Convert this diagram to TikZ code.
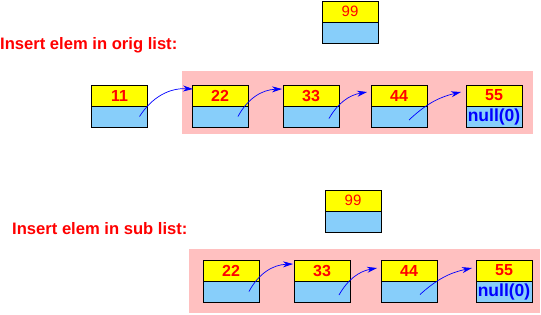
\documentclass[tikz,border=0pt]{standalone}
\usepackage{fontspec}
\setmainfont{Liberation Sans}
\usetikzlibrary{arrows.meta,positioning}
\definecolor{cellyellow}{RGB}{255,255,0}
\definecolor{cellblue}{RGB}{135,206,250}
\definecolor{listpink}{RGB}{255,192,192}

\begin{document}
\begin{tikzpicture}[x=1pt, y=-1pt,
  celltop/.style={draw, line width=0.9pt, fill=cellyellow, minimum width=56pt, minimum height=21pt, inner sep=0pt, outer sep=0pt, text=red, font=\fontsize{16}{16}\selectfont\bfseries},
  newtop/.style={celltop, font=\fontsize{15}{15}\selectfont},
  cellbot/.style={draw, line width=0.9pt, fill=cellblue, minimum width=56pt, minimum height=21pt, inner sep=0pt, outer sep=0pt, text=blue, font=\fontsize{17.5}{17.5}\selectfont\bfseries},
  caption/.style={anchor=west, inner sep=0pt, text=red, font=\fontsize{16.6}{17}\selectfont\bfseries},
  link/.style={-{Stealth[length=10pt,width=6pt]}, blue, line width=0.7pt}
]
\useasboundingbox (0,0) rectangle (541,314);
% pink sub lists
\fill[listpink] (182,71) rectangle (533,134);
\fill[listpink] (189,249) rectangle (540,313);
% orig list
\node[caption] (cap1) at (0,45) {Insert elem in orig list:};
\node[newtop] (a99) at (350,11.5) {99};
\node[cellbot, below=0pt of a99] (a99b) {};
\node[celltop] (a11) at (119.5,95.5) {11};
\node[cellbot, below=0pt of a11] (a11b) {};
\node[celltop] (a22) at (220,95.5) {22};
\node[cellbot, below=0pt of a22] (a22b) {};
\node[celltop] (a33) at (311,95.5) {33};
\node[cellbot, below=0pt of a33] (a33b) {};
\node[celltop] (a44) at (399,95.5) {44};
\node[cellbot, below=0pt of a44] (a44b) {};
\node[celltop] (a55) at (494,95.5) {55};
\node[cellbot, below=0pt of a55] (a55b) {null(0)};
\draw[link] ([xshift=20pt]a11b.center) to[bend left=30] ([xshift=1pt,yshift=-4pt]a22.north west);
\draw[link] ([xshift=18pt]a22b.center) to[bend left=30] ([xshift=-1pt,yshift=-4pt]a33.north west);
\draw[link] ([xshift=18pt,yshift=-2pt]a33b.center) to[bend left=25] ([xshift=-4pt,yshift=-7pt]a44.north west);
\draw[link] ([xshift=10pt,yshift=-3.5pt]a44b.center) to[bend left=15] ([xshift=-5pt,yshift=-7pt]a55.north west);
% sub list
\node[caption] (cap2) at (12,229) {Insert elem in sub list:};
\node[newtop] (b99) at (353,200.5) {99};
\node[cellbot, below=0pt of b99] (b99b) {};
\node[celltop] (b22) at (231,270.5) {22};
\node[cellbot, below=0pt of b22] (b22b) {};
\node[celltop] (b33) at (322,270.5) {33};
\node[cellbot, below=0pt of b33] (b33b) {};
\node[celltop] (b44) at (409,270.5) {44};
\node[cellbot, below=0pt of b44] (b44b) {};
\node[celltop] (b55) at (504,270.5) {55};
\node[cellbot, below=0pt of b55] (b55b) {null(0)};
\draw[link] ([xshift=18pt]b22b.center) to[bend left=30] ([xshift=-1pt,yshift=-4pt]b33.north west);
\draw[link] ([xshift=17pt,yshift=-3.5pt]b33b.center) to[bend left=25] ([xshift=-4pt,yshift=-8pt]b44.north west);
\draw[link] ([xshift=11pt,yshift=-3pt]b44b.center) to[bend left=15] ([xshift=-4pt,yshift=-8pt]b55.north west);
\end{tikzpicture}
\end{document}
